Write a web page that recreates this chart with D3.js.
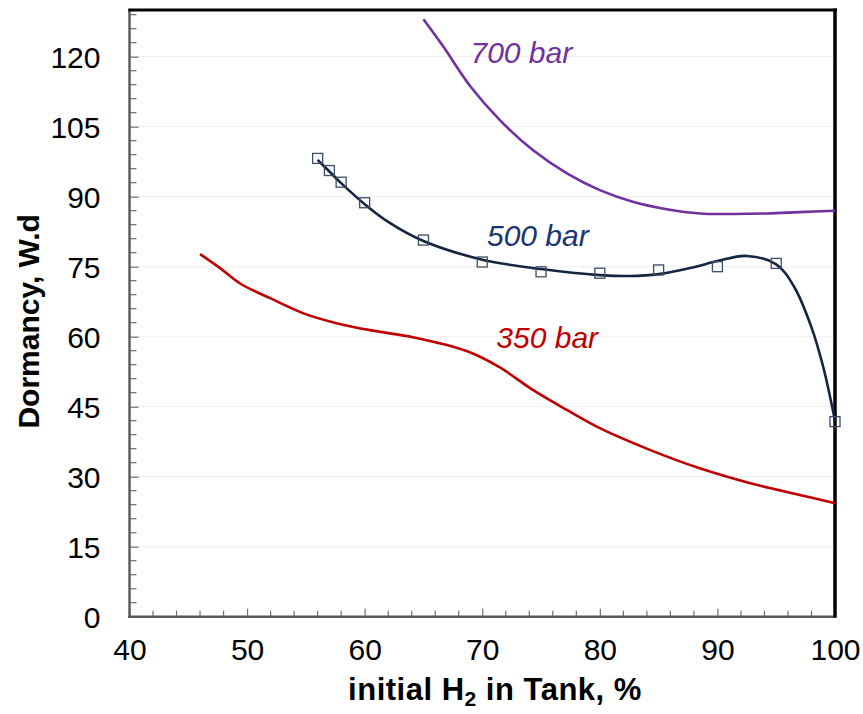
<!DOCTYPE html>
<html>
<head>
<meta charset="utf-8">
<script src="https://cdn.jsdelivr.net/npm/d3@7"></script>
<style>
  html, body { margin: 0; padding: 0; background: #fff; }
  svg { display: block; font-family: "Liberation Sans", Arial, Helvetica, sans-serif; }
</style>
</head>
<body>
<svg id="chart" width="863" height="714"></svg>
<script>
// Dormancy vs. initial hydrogen fill, for three storage pressures

// 350 bar curve
const h2_350 = [46.0, 47.7, 49.4, 52.0, 54.8, 57.6, 60.7, 64.1, 67.0, 69.2, 71.5, 74.3, 77.2, 80.0, 84.3, 88.5, 92.8, 97.0, 100];
const dorm_350 = [77.7, 74.7, 71.4, 68.2, 65.0, 62.9, 61.3, 59.9, 58.2, 56.4, 53.4, 48.6, 44.3, 40.4, 35.7, 31.8, 28.6, 26.1, 24.3];

// 500 bar fitted curve
const h2_500 = [56, 57, 58, 60, 62, 65, 70, 75, 80, 82.5, 85, 88, 90, 92.5, 95, 96.5, 98, 99, 100];
const dorm_500 = [97.9, 95.4, 92.9, 88.4, 84.6, 80.5, 76.5, 74.5, 73.2, 73.0, 73.4, 74.9, 76.2, 77.3, 75.5, 70.8, 62.0, 53.5, 42.0];

// 500 bar computed points (square markers)
const h2_500pts = [56, 57, 58, 60, 65, 70, 75, 80, 85, 90, 95, 100];
const dorm_500pts = [98.2, 95.6, 93.1, 88.7, 80.7, 76.0, 73.9, 73.6, 74.3, 75.0, 75.7, 41.8];

// 700 bar curve
const h2_700 = [65.0, 66.7, 69.0, 71.5, 74.3, 77.2, 80.0, 82.8, 85.7, 88.5, 91.4, 94.2, 97.0, 100];
const dorm_700 = [128.0, 122.1, 113.6, 106.4, 100.0, 95.0, 91.4, 88.9, 87.3, 86.4, 86.3, 86.4, 86.7, 87.0];

// Axis ticks
const xTicks = [40, 50, 60, 70, 80, 90, 100];
const yTicks = [0, 15, 30, 45, 60, 75, 90, 105, 120];
const xMinor = d3.range(42, 100, 2);
const yMinor = d3.range(3, 130, 3);

// Curve labels
const labels = [
  { text: "700 bar", x: 69.0, y: 118.7, color: "#7030A0" },
  { text: "500 bar", x: 70.4, y: 79.4, color: "#1A3372" },
  { text: "350 bar", x: 71.2, y: 57.5, color: "#C00000" }
];

const svg = d3.select("#chart");
const W = 863, H = 714;
const m = { left: 129.5, right: 28, top: 10, bottom: 97.3 };

const x = d3.scaleLinear().domain([40, 100]).range([m.left, W - m.right]);
const y = d3.scaleLinear().domain([0, 130]).range([H - m.bottom, m.top]);

const font = "\"Liberation Sans\", Arial, Helvetica, sans-serif";

// light horizontal gridlines at major y values
svg.append("g")
  .selectAll("line")
  .data(yTicks.filter(d => d > 0))
  .join("line")
  .attr("x1", x(40)).attr("x2", x(100))
  .attr("y1", d => y(d)).attr("y2", d => y(d))
  .attr("stroke", "#EEEEEE").attr("stroke-width", 1);

// minor ticks (inside)
const tickColor = "#6E6E6E";
svg.append("g").selectAll("line").data(xMinor.filter(d => d % 10 !== 0)).join("line")
  .attr("x1", d => x(d)).attr("x2", d => x(d))
  .attr("y1", y(0)).attr("y2", y(0) - 6)
  .attr("stroke", tickColor).attr("stroke-width", 1.2);
svg.append("g").selectAll("line").data(yMinor.filter(d => d % 15 !== 0)).join("line")
  .attr("x1", x(40)).attr("x2", x(40) + 7)
  .attr("y1", d => y(d)).attr("y2", d => y(d))
  .attr("stroke", tickColor).attr("stroke-width", 1.2);

// major axes built with d3 axis generators, ticks pointing inward
const xAxis = d3.axisBottom(x).tickValues(xTicks).tickSizeInner(-8).tickSizeOuter(0).tickPadding(22);
const yAxis = d3.axisLeft(y).tickValues(yTicks).tickSizeInner(-9).tickSizeOuter(0).tickPadding(30);

const gx = svg.append("g").attr("transform", `translate(0,${y(0)})`).call(xAxis);
const gy = svg.append("g").attr("transform", `translate(${x(40)},0)`).call(yAxis);

[gx, gy].forEach(g => {
  g.select(".domain").remove();
  g.selectAll(".tick line").attr("stroke", tickColor).attr("stroke-width", 1.2);
  g.selectAll(".tick text")
    .attr("fill", "#000")
    .style("font-family", font)
    .style("font-size", "30px");
});
gy.selectAll(".tick text").attr("x", -29).attr("dy", "0.36em");

// frame: left and bottom gray, top and right black
svg.append("line").attr("x1", x(40)).attr("x2", x(40)).attr("y1", y(130) - 1).attr("y2", y(0) + 1.2)
  .attr("stroke", "#595959").attr("stroke-width", 2.4);
svg.append("line").attr("x1", x(40) - 1.2).attr("x2", x(100)).attr("y1", y(0)).attr("y2", y(0))
  .attr("stroke", "#595959").attr("stroke-width", 2.4);
svg.append("line").attr("x1", x(40) - 1.2).attr("x2", x(100) + 2).attr("y1", y(130)).attr("y2", y(130))
  .attr("stroke", "#000").attr("stroke-width", 3);
svg.append("line").attr("x1", x(100)).attr("x2", x(100)).attr("y1", y(130) - 1.5).attr("y2", y(0) + 1)
  .attr("stroke", "#000").attr("stroke-width", 3.5);

// series lines
const line = d3.line().x(d => x(d[0])).y(d => y(d[1])).curve(d3.curveCatmullRom.alpha(0.5));
const zip = (a, b) => a.map((v, i) => [v, b[i]]);

svg.append("path").datum(zip(h2_350, dorm_350)).attr("d", line)
  .attr("fill", "none").attr("stroke", "#C00000").attr("stroke-width", 2.6);
svg.append("path").datum(zip(h2_700, dorm_700)).attr("d", line)
  .attr("fill", "none").attr("stroke", "#7030A0").attr("stroke-width", 2.6);
svg.append("path").datum(zip(h2_500, dorm_500)).attr("d", line)
  .attr("fill", "none").attr("stroke", "#14253F").attr("stroke-width", 2.6);

// square markers on the 500 bar points
const s = 10;
svg.append("g").selectAll("rect").data(zip(h2_500pts, dorm_500pts)).join("rect")
  .attr("x", d => x(d[0]) - s / 2).attr("y", d => y(d[1]) - s / 2)
  .attr("width", s).attr("height", s)
  .attr("fill", "none").attr("stroke", "#3B4B68").attr("stroke-width", 1.3);

// curve labels
svg.append("g").selectAll("text").data(labels).join("text")
  .attr("x", d => x(d.x)).attr("y", d => y(d.y))
  .attr("fill", d => d.color)
  .style("font-family", font).style("font-size", "30px").style("font-style", "italic")
  .text(d => d.text);

// axis titles
const xt = svg.append("text")
  .attr("x", 495).attr("y", 700)
  .attr("text-anchor", "middle")
  .style("font-family", font).style("font-size", "31px").style("font-weight", "bold")
  .style("letter-spacing", "0.5px");
xt.append("tspan").text("initial H");
xt.append("tspan").attr("dy", 6).style("font-size", "21px").text("2");
xt.append("tspan").attr("dy", -6).text(" in Tank, %");

svg.append("text")
  .attr("transform", `translate(39,${(y(0) + y(130)) / 2 + 8}) rotate(-90)`)
  .attr("text-anchor", "middle")
  .style("font-family", font).style("font-size", "30px").style("font-weight", "bold")
  .text("Dormancy, W.d");
</script>
</body>
</html>
